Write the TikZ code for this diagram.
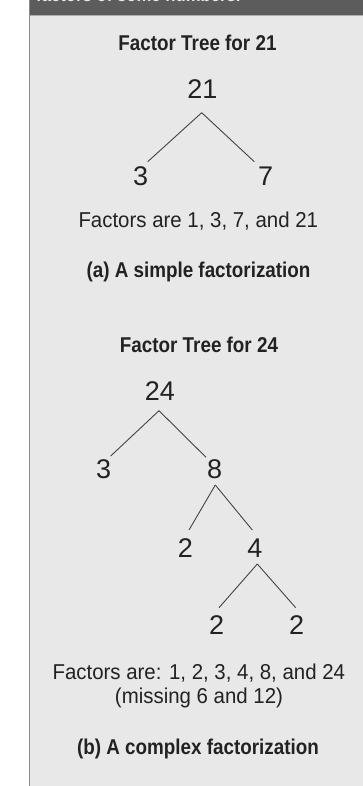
\documentclass[tikz,border=0pt]{standalone}
\usepackage{fontspec}
\usetikzlibrary{calc}
\newfontfamily\bodyfont[FakeStretch=0.95]{Liberation Sans}
\newfontfamily\headfont[FakeStretch=0.88]{Liberation Sans}
\newfontfamily\numfont{Liberation Sans}
\definecolor{panelbg}{HTML}{E8E8E8}
\definecolor{barbg}{HTML}{5C5C5C}
\definecolor{ink}{HTML}{222222}
\definecolor{edgecol}{HTML}{8A8A8A}
\begin{document}
\begin{tikzpicture}[x=1pt,y=-1pt,
  heading/.style={anchor=base,inner sep=0pt,text=ink,font=\headfont\bfseries\fontsize{21.4}{24}\selectfont},
  body/.style={anchor=base,inner sep=0pt,text=ink,font=\bodyfont\fontsize{21.5}{24}\selectfont},
  num/.style={inner sep=0pt,text=ink,font=\numfont\fontsize{27}{30}\selectfont},
  branch/.style={draw=ink!85,line width=0.9pt}]
\useasboundingbox (0,0) rectangle (363,786);
\fill[white] (0,0) rectangle (363,786);
\fill[panelbg] (29,0) rectangle (363,786);
\fill[barbg] (29,0) rectangle (363,15);
\draw[edgecol!70,line width=0.8pt] (29,15.2) -- (363,15.2);
\draw[edgecol,line width=1.1pt] (29.5,0) -- (29.5,786);
\begin{scope}
  \clip (30,0) rectangle (363,15);
  \node[anchor=base west,inner sep=0pt,text=panelbg,font=\headfont\bfseries\fontsize{19}{22}\selectfont] (bartext) at (36,2) {factors of some numbers.};
\end{scope}

% (a)
\node[heading] (t21) at (197.5,50.7) {Factor Tree for 21};
\node[num] (n21) at (202.3,89.3) {21};
\node[num] (a3) at (140.7,176.2) {3};
\node[num] (a7) at (265.7,176.2) {7};
\draw[branch] ($(n21)+(-0.6,23.4)$) -- ($(a3)+(7,-14.5)$);
\draw[branch] ($(n21)+(-0.6,23.4)$) -- ($(a7)+(-11.4,-14.5)$);
\node[body] (f21) at (198.3,227.3) {Factors are 1, 3, 7, and 21};
\node[heading] (capa) at (198.5,277.7) {(a) A simple factorization};

% (b)
\node[heading] (t24) at (199,352.7) {Factor Tree for 24};
\node[num] (n24) at (160,391.2) {24};
\node[num] (b3) at (103.7,469.2) {3};
\node[num] (b8) at (214.7,469.2) {8};
\node[num] (b2a) at (185.3,547.8) {2};
\node[num] (b4) at (255,547.8) {4};
\node[num] (b2b) at (216.7,625) {2};
\node[num] (b2c) at (296.7,625) {2};
\draw[branch] ($(n24)+(-1,19.5)$) -- ($(b3)+(7,-13.2)$);
\draw[branch] ($(n24)+(-1,19.5)$) -- ($(b8)+(-8.7,-11.9)$);
\draw[branch] ($(b8)+(0.6,15.8)$) -- ($(b2a)+(3.7,-17.8)$);
\draw[branch] ($(b8)+(0.6,15.8)$) -- ($(b4)+(-2.7,-17.8)$);
\draw[branch] ($(b4)+(2.3,16.2)$) -- ($(b2b)+(2.3,-17.3)$);
\draw[branch] ($(b4)+(2.3,16.2)$) -- ($(b2c)+(-1,-17.3)$);
\node[body] (f24) at (198.8,679.3) {Factors are: 1, 2, 3, 4, 8, and 24};
\node[body] (miss) at (199,703.5) {(missing 6 and 12)};
\node[heading] (capb) at (198,754.3) {(b) A complex factorization};
\end{tikzpicture}
\end{document}
